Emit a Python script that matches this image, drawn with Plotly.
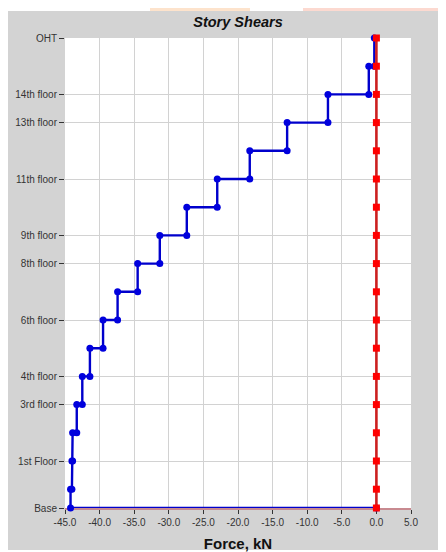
import plotly.graph_objects as go

# Story levels (bottom to top) and their elevations (m)
stories = ["Base", "Plinth", "1st Floor", "2nd floor", "3rd floor", "4th floor", "5th floor",
           "6th floor", "7th floor", "8th floor", "9th floor", "10th floor", "11th floor",
           "12th floor", "13th floor", "14th floor", "Roof", "OHT"]
elevations = [0, 2, 5, 8, 11, 14, 17, 20, 23, 26, 29, 32, 35, 38, 41, 44, 47, 50]
labeled = ["Base", "1st Floor", "3rd floor", "4th floor", "6th floor", "8th floor",
           "9th floor", "11th floor", "13th floor", "14th floor", "OHT"]

# Story shear of each story (story below each level, from Plinth up to OHT), kN
shear_x = [-44.2, -44.0, -43.9, -43.3, -42.5, -41.4, -39.5, -37.4, -34.5, -31.3,
           -27.4, -23.0, -18.3, -12.9, -7.0, -1.1, -0.3]
shear_y = [0.0] * len(elevations)

x_ticks = [-45, -40, -35, -30, -25, -20, -15, -10, -5, 0, 5]
x_ticktext = ["-45.0", "-40.0", "-35.0", "-30.0", "-25.0", "-20.0", "-15.0",
              "-10.0", "-5.0", "0.0", "5.0"]

# Build the step path for the X-direction shear (top to bottom)
bx, by = [], []
for i in range(len(shear_x) - 1, -1, -1):
    v = shear_x[i]
    bx += [v, v]
    by += [elevations[i + 1], elevations[i]]
bx.append(0.0)
by.append(elevations[0])

W, H = 438, 544
L, R, T, B = 57, 35, 30, 44
PW, PH = W - L - R, H - T - B


def px(xpix):
    return (xpix - L) / PW


def py(ypix):
    return (H - B - ypix) / PH


fig = go.Figure()

fig.add_trace(go.Scatter(
    x=bx, y=by, mode="lines+markers",
    line=dict(color="#0000cc", width=2.4),
    marker=dict(color="#0000dd", size=7, symbol="circle"),
    cliponaxis=False, showlegend=False))

fig.add_trace(go.Scatter(
    x=shear_y, y=elevations, mode="lines+markers",
    line=dict(color="#cc2020", width=2.6),
    marker=dict(color="#ff0000", size=7, symbol="square"),
    cliponaxis=False, showlegend=False))

tickvals = [elevations[stories.index(s)] for s in labeled]

shapes = [
    # page strip above the gray panel, with watermark-like patches
    dict(type="rect", xref="paper", yref="paper", x0=px(-5), x1=px(W + 5), y0=py(3), y1=py(-5),
         fillcolor="#ffffff", line_width=0, layer="below"),
    dict(type="rect", xref="paper", yref="paper", x0=px(142), x1=px(242), y0=py(3), y1=py(-5),
         fillcolor="#fde3cc", line_width=0, layer="below"),
    dict(type="rect", xref="paper", yref="paper", x0=px(295), x1=px(W + 5), y0=py(3), y1=py(-5),
         fillcolor="#fcd9d0", line_width=0, layer="below"),
    dict(type="rect", xref="paper", yref="paper", x0=px(436), x1=px(W + 5), y0=py(H + 5), y1=py(-5),
         fillcolor="#ffffff", line_width=0, layer="below"),
    dict(type="rect", xref="paper", yref="paper", x0=px(-5), x1=px(W + 5), y0=py(H + 5), y1=py(542),
         fillcolor="#ffffff", line_width=0, layer="below"),
]

fig.update_layout(
    width=W, height=H,
    margin=dict(l=L, r=R, t=T, b=B, autoexpand=False),
    paper_bgcolor="#d3d3d3", plot_bgcolor="#ffffff",
    font=dict(family="Liberation Sans, Arial, sans-serif", color="#222222"),
    title=dict(text="<b><i>Story Shears</i></b>", x=0.5, xref="paper", xanchor="center",
               y=1 - 14 / H, yanchor="middle", font=dict(size=14.5, color="#111111")),
    shapes=shapes,
    xaxis=dict(range=[-45, 5], tickmode="array", tickvals=x_ticks, ticktext=x_ticktext,
               showgrid=True, gridcolor="#d2d2d2", gridwidth=1, zeroline=False,
               ticks="outside", ticklen=4, tickcolor="#333333",
               tickfont=dict(size=10, color="#333333"),
               showline=True, linecolor="#c88a90", linewidth=2, layer="below traces",
               title=dict(text="<b>Force, kN</b>", font=dict(size=15, color="#111111"),
                          standoff=16)),
    yaxis=dict(range=[0, 50], tickmode="array", tickvals=tickvals, ticktext=labeled,
               showgrid=True, gridcolor="#d2d2d2", gridwidth=1, zeroline=False,
               ticks="outside", ticklen=5, tickcolor="#333333",
               tickfont=dict(size=10, color="#333333"), showline=False),
)

fig.write_html("out.html")
